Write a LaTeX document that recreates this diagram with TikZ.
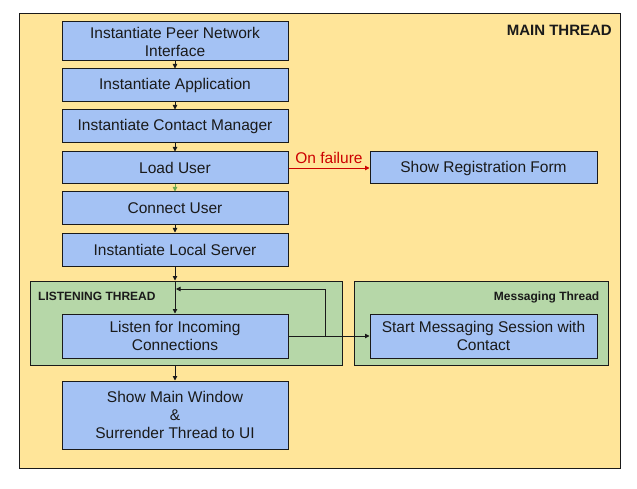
\documentclass[tikz,border=0pt]{standalone}
\usepackage{fontspec}
\setmainfont{Liberation Sans}
\usetikzlibrary{arrows.meta,calc}
\definecolor{yel}{HTML}{FFE599}
\definecolor{grn}{HTML}{B6D7A8}
\definecolor{blu}{HTML}{A4C2F4}
\definecolor{redc}{HTML}{CC0000}
\definecolor{grarrow}{HTML}{6AA84F}
\definecolor{ink}{HTML}{1A1A1A}
\begin{document}
\begin{tikzpicture}[x=1pt,y=-1pt,
  stepbox/.style={draw=ink,line width=1pt,fill=blu,text=ink,align=center,inner sep=0pt,
    minimum width=226pt,font=\fontsize{15.5}{18}\selectfont},
  container/.style={draw=ink,line width=1pt},
  conn/.style={draw=ink,line width=0.9pt,-{Triangle[length=4.5pt,width=4.5pt]}},
  biglabel/.style={font=\fontsize{15}{18}\selectfont\bfseries,text=ink,inner sep=0pt},
  smalllabel/.style={font=\fontsize{12}{14}\selectfont\bfseries,text=ink,inner sep=0pt}]
\fill[white] (0,0) rectangle (637,489);
\useasboundingbox (0,0) rectangle (637,489);
% containers
\node[container,fill=yel,minimum width=600.5pt,minimum height=454.5pt,inner sep=0pt] (MT) at (319.75,240.75) {};
\node[container,fill=grn,minimum width=312pt,minimum height=84pt,inner sep=0pt] (LT) at (186,323) {};
\node[container,fill=grn,minimum width=254pt,minimum height=84pt,inner sep=0pt] (MsgT) at (481,323) {};
\node[biglabel,anchor=base east] (mtl) at (612,36) {MAIN THREAD};
\node[smalllabel,anchor=base west] (ltl) at (38,300) {LISTENING THREAD};
\node[smalllabel,anchor=base east] (msl) at (599.5,300) {Messaging Thread};
% steps
\node[stepbox,minimum height=39pt] (peer) at (175,41.5) {Instantiate Peer Network\\Interface};
\node[stepbox,minimum height=33pt] (app) at (175,85.5) {Instantiate Application};
\node[stepbox,minimum height=33pt] (cm) at (175,126.5) {Instantiate Contact Manager};
\node[stepbox,minimum height=32pt] (load) at (175,168) {Load User};
\node[stepbox,minimum height=33pt] (conn) at (175,208.5) {Connect User};
\node[stepbox,minimum height=33pt] (local) at (175,249.5) {Instantiate Local Server};
\node[stepbox,minimum height=44pt] (listen) at (175,336) {Listen for Incoming\\Connections};
\node[stepbox,minimum height=68pt] (show) at (175,415) {Show Main Window\\\&\\Surrender Thread to UI};
\node[stepbox,minimum width=227pt,minimum height=32pt] (reg) at (483.5,168) {Show Registration Form};
\node[stepbox,minimum width=227pt,minimum height=44pt] (start) at (483.5,336) {Start Messaging Session with\\Contact};
% connectors
\draw[conn] (peer) -- (app);
\draw[conn] (app) -- (cm);
\draw[conn] (cm) -- (load);
\draw[conn,draw=grarrow] (load) -- (conn);
\draw[conn] (conn) -- (local);
\draw[conn] (local.south) -- (local.south |- LT.north);
\draw[conn] (listen.north |- LT.north) -- (listen.north);
\coordinate (turn) at (325,289);
\coordinate (join) at (176,289);
\draw[conn] (listen.east) -| (turn) -- (join);
\draw[conn] (listen.east) -- (start.west);
\draw[conn] (listen.south |- LT.south) -- (show.north);
\draw[conn,draw=redc] (load.east) -- node[anchor=base,yshift=4pt,inner sep=0pt,text=redc,font=\fontsize{15.5}{18}\selectfont] (fail) {On failure} (reg.west);
\end{tikzpicture}
\end{document}
